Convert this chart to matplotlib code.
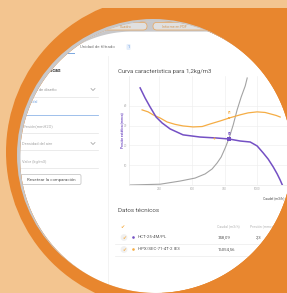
import matplotlib
matplotlib.use('Agg')
import matplotlib.pyplot as plt
import numpy as np
from matplotlib.patches import Circle, Rectangle, FancyBboxPatch, PathPatch
from matplotlib.path import Path

plt.rcParams['font.family'] = ['Roboto', 'DejaVu Sans']

# ---------------- data ----------------
purple_flow = [105, 143, 181, 227, 273, 334, 433, 563, 693, 785, 869, 946, 999, 1045, 1083, 1122, 1152, 1175, 1198]
purple_pres = [49.0, 43.9, 39.4, 34.3, 31.3, 28.3, 25.3, 24.2, 23.7, 23.2, 22.2, 21.7, 19.7, 16.2, 13.1, 9.1, 5.6, 2.5, -1.0]

orange_flow = [120, 166, 204, 258, 311, 372, 433, 510, 579, 640, 716, 785, 869, 930, 999, 1060, 1099, 1144, 1175]
orange_pres = [37.9, 36.9, 35.4, 33.8, 31.8, 30.6, 29.8, 29.3, 29.5, 30.8, 32.3, 33.8, 35.4, 36.4, 36.9, 36.6, 35.9, 35.1, 34.3]

system_flow = [28, 143, 258, 411, 525, 602, 655, 693, 724, 755, 785, 816, 846, 877, 908, 923]
system_pres = [0.0, 0.2, 0.4, 2.0, 3.5, 5.6, 8.1, 11.1, 14.1, 18.7, 23.7, 30.3, 37.9, 44.4, 50.0, 54.0]

p1 = (785, 33.8)
p2 = (785, 23.2)
extra_point = (670, 23.7)

x_ticks = [250, 500, 750, 1000]
y_ticks = [10, 20, 30, 40]

table_names = ['HCT-25-4M/PL', 'HPX/SEC-71-4T-2 IE3']
table_caudal = ['748,09', '16054,56']
table_pres = ['2,3', '']

PURPLE = '#7450c4'
ORANGE_L = '#f5ad45'
GRAYC = '#a3a3a3'
PEACH = '#f3c590'
ORANGE = '#e8862e'
GRAYBAND = '#c8c8ca'

W, H = 287, 293
FRAME_C, FRAME_R = (156, 157), 136          # round window of the page
GRAY_C, GRAY_R = (153, 155), 136            # thin gray rim on the upper left
WIN_X0, WIN_Y0 = 20.5, 31.6                 # screenshot window (rounded corner)
CORNER_C, CORNER_R = (131.5, 142.6), 111
ORANGE_C, ORANGE_R = (162, 152), 156

fig = plt.figure(figsize=(W / 100, H / 100), dpi=100, facecolor='white')

# ---------------- page content (scene coords, pixels) ----------------
ax = fig.add_axes([0, 0, 1, 1], zorder=0)
ax.set_xlim(0, W)
ax.set_ylim(H, 0)
ax.axis('off')


def txt(x, y, s, **kw):
    return ax.text(x, y, s, **kw)


def hline(x0, x1, y, color='#e3e3e3', lw=0.5):
    ax.plot([x0, x1], [y, y], color=color, lw=lw)


def chevron(x, y):
    ax.plot([x - 2, x, x + 2], [y - 1, y + 1, y - 1], color='#999999', lw=0.5)


# tab row
txt(80, 47, 'Unidad de filtrado', fontsize=3.2, color='#777777', va='center')
txt(128.5, 47, '1', fontsize=2.6, color='#5a8fd8', va='center', ha='center',
    bbox=dict(boxstyle='round,pad=0.25', fc='#e3edfb', ec='none'))
hline(60, 74, 53, color='#7aa7e0', lw=0.7)

# divider
ax.plot([108, 108], [56, 292], color='#eeeeee', lw=0.5)

# left form
txt(61, 71, 'Características', fontsize=3.8, color='#444444', ha='right', va='center', weight='bold')
txt(57, 90, 'Punto de diseño', fontsize=3.0, color='#9a9a9a', ha='right', va='center')
chevron(93, 89.5)
hline(20, 98, 97)
txt(38, 102, 'Caudal', fontsize=2.6, color='#7aa7e0', ha='right', va='center')
hline(20, 98, 115, color='#8fb5e8', lw=0.6)
txt(23, 126.5, 'Presión(mmH2O)', fontsize=2.9, color='#a8a8a8', va='center')
hline(20, 98, 132.5)
txt(22, 144, 'Densidad del aire', fontsize=2.9, color='#a8a8a8', va='center')
chevron(93, 143.5)
hline(20, 98, 150)
txt(22, 162, 'Valor (kg/m3)', fontsize=2.9, color='#a8a8a8', va='center')
hline(20, 98, 167.5)
ax.add_patch(FancyBboxPatch((21, 174.5), 60, 10, boxstyle='round,pad=0,rounding_size=1.5',
                            facecolor='white', edgecolor='#bdbdbd', lw=0.5))
txt(51, 179.5, 'Resetear la comparación', fontsize=3.2, color='#555555', ha='center', va='center')

# chart title
txt(118, 71, 'Curva característica para 1,2kg/m3', fontsize=4.3, color='#555555', va='center')

# table
txt(118, 210.5, 'Datos técnicos', fontsize=4.5, color='#555555', va='center')
txt(123, 226.5, '✔', fontsize=3.6, color=ORANGE_L, ha='center', va='center', family='DejaVu Sans')
txt(217, 226.5, 'Caudal (m3/h)', fontsize=2.5, color='#b5b5b5', va='center')
txt(250, 226.5, 'Presión (mmca)', fontsize=2.5, color='#b5b5b5', va='center')
row_y = [237.5, 249.5]
dot_colors = [PURPLE, ORANGE_L]
for i, yy in enumerate(row_y):
    ax.add_patch(Circle((124, yy), 3.4, facecolor='#f0f0f0', edgecolor='none'))
    txt(124, yy, '✔', fontsize=3.3, color=ORANGE_L, ha='center', va='center', family='DejaVu Sans')
    ax.add_patch(Circle((133.5, yy), 1.3, color=dot_colors[i], lw=0))
    txt(138, yy, table_names[i], fontsize=3.2, color='#555555', va='center')
    txt(218, yy, table_caudal[i], fontsize=3.1, color='#555555', va='center')
    txt(256, yy, table_pres[i], fontsize=3.1, color='#555555', va='center')
    hline(115, 290, yy + 6.5, color='#ececec', lw=0.5)

# ---------------- chart ----------------
x_left, x_right, y_bottom, y_top = 129, 290, 185, 76
cax = fig.add_axes([x_left / W, (H - y_bottom) / H, (x_right - x_left) / W, (y_bottom - y_top) / H], zorder=1)
cax.patch.set_alpha(0)
cax.set_xlim(20, 1250)
cax.set_ylim(0, 55)

cax.plot(system_flow, system_pres, color=GRAYC, lw=0.8)
cax.plot(orange_flow, orange_pres, color=ORANGE_L, lw=0.9)
cax.plot(purple_flow, purple_pres, color=PURPLE, lw=1.1)
cax.plot([extra_point[0]], [extra_point[1]], 'o', color=ORANGE_L, ms=1.4, mew=0)
cax.plot([p1[0]], [p1[1]], 's', color=ORANGE_L, ms=2.0, mew=0)
cax.plot([p2[0]], [p2[1]], 's', color=PURPLE, ms=2.2, mew=0)
cax.annotate('P1', p1, xytext=(0, 2.3), textcoords='offset points', ha='center', va='bottom',
             fontsize=2.2, color=ORANGE_L, weight='bold')
cax.annotate('P2', p2, xytext=(0, 2.3), textcoords='offset points', ha='center', va='bottom',
             fontsize=2.2, color=PURPLE, weight='bold')

cax.set_xticks(x_ticks)
cax.set_yticks(y_ticks)
cax.tick_params(length=0, labelsize=2.2, labelcolor='#aaaaaa', pad=1.2)
cax.grid(True, color='#efefef', lw=0.45)
for s in ['top', 'right']:
    cax.spines[s].set_visible(False)
for s in ['left', 'bottom']:
    cax.spines[s].set_color('#e6e6e6')
    cax.spines[s].set_linewidth(0.45)
cax.set_ylabel('Presión estática (mmca)', fontsize=2.3, color=PURPLE, labelpad=1.5, weight='bold')
cax.set_xlabel('Caudal (m3/h)', fontsize=2.4, color='#555555', ha='left')
cax.xaxis.set_label_coords((263 - x_left) / (x_right - x_left), -(196 - y_bottom) / (y_bottom - y_top))
cax.yaxis.label.set_va('center')

# ---------------- frame overlay ----------------
ox = fig.add_axes([0, 0, 1, 1], zorder=5)
ox.set_xlim(0, W)
ox.set_ylim(H, 0)
ox.axis('off')
ox.patch.set_alpha(0)

OUTER = np.array([[-20, -20], [320, -20], [320, 320], [-20, 320], [-20, -20]], dtype=float)


def signed_area(p):
    return 0.5 * np.sum(p[:-1, 0] * p[1:, 1] - p[1:, 0] * p[:-1, 1])


def with_hole(hole):
    if np.sign(signed_area(hole)) == np.sign(signed_area(OUTER)):
        hole = hole[::-1]
    verts = np.vstack([OUTER, hole])
    codes = ([Path.MOVETO] + [Path.LINETO] * 3 + [Path.CLOSEPOLY] +
             [Path.MOVETO] + [Path.LINETO] * (len(hole) - 2) + [Path.CLOSEPOLY])
    return Path(verts, codes)


ang = np.linspace(0, 2 * np.pi, 361)
frame_hole = np.column_stack([FRAME_C[0] + FRAME_R * np.cos(ang), FRAME_C[1] + FRAME_R * np.sin(ang)])
frame_mask = with_hole(frame_hole)

a2 = np.linspace(np.pi, 1.5 * np.pi, 90)
corner = np.column_stack([CORNER_C[0] + CORNER_R * np.cos(a2), CORNER_C[1] + CORNER_R * np.sin(a2)])
tail = np.array([[400, WIN_Y0], [400, 400], [WIN_X0, 400]], dtype=float)
win_hole = np.vstack([corner, tail, corner[:1]])
win_mask = with_hole(win_hole)

ox.add_patch(PathPatch(frame_mask, fc=PEACH, ec='none', lw=0))
m1 = PathPatch(frame_mask, fc=ORANGE, ec='none', lw=0)
ox.add_patch(m1)
m1.set_clip_path(Circle(ORANGE_C, ORANGE_R, transform=ox.transData))
m2 = PathPatch(frame_mask, fc=ORANGE, ec='none', lw=0)
ox.add_patch(m2)
m2.set_clip_path(Rectangle((ORANGE_C[0], 8), 200, 300, transform=ox.transData))
ox.add_patch(Rectangle((-5, -20), 300, 28, color=PEACH, lw=0))
g1 = PathPatch(frame_mask, fc=GRAYBAND, ec='none', lw=0)
ox.add_patch(g1)
g1.set_clip_path(Circle(GRAY_C, GRAY_R, transform=ox.transData))
g2 = PathPatch(win_mask, fc=GRAYBAND, ec='none', lw=0)
ox.add_patch(g2)
g2.set_clip_path(Circle(FRAME_C, FRAME_R, transform=ox.transData))

# top pills on the gray header
for (x0, w, label, tx) in [(97, 50, 'Cuadro', 126), (153, 72, 'Informe en PDF', 174)]:
    p = FancyBboxPatch((x0, 22.5), w, 7.5, boxstyle='round,pad=0,rounding_size=3.7',
                       facecolor='#e0e0e0', edgecolor='#e9a55a', lw=0.5)
    ox.add_patch(p)
    p.set_clip_path(Circle(FRAME_C, FRAME_R, transform=ox.transData))
    ox.text(tx, 26.5, label, fontsize=2.6, color='#d49a5a', ha='center', va='center')

fig.savefig('out.png', dpi=100, facecolor='white')
